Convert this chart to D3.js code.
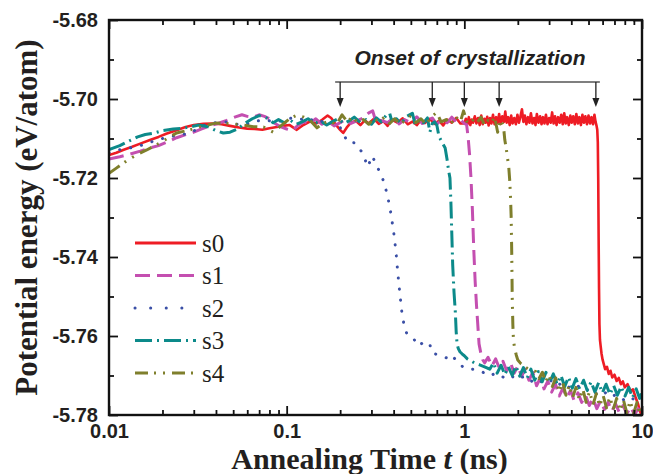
<!DOCTYPE html>
<html><head><meta charset="utf-8">
<script src="https://cdn.jsdelivr.net/npm/d3@7"></script>
<style>body{margin:0;background:#fff}svg{display:block}</style>
</head><body>
<svg id="c" width="653" height="474"></svg>
<script>
const seriesNames = ["s0","s1","s2","s3","s4"];
const seriesColors = ["#ee1c24","#c44fb0","#3a4fa6","#0c8a8a","#7f7f2c"];
const xTickValues = [0.01,0.1,1,10];
const xTickLabels = ["0.01","0.1","1","10"];
const yTickValues = [-5.68,-5.70,-5.72,-5.74,-5.76,-5.78];
const yTickLabels = ["-5.68","-5.70","-5.72","-5.74","-5.76","-5.78"];
const onsetTimes = [0.2,0.66,1.0,1.57,5.5];
const annotationText = "Onset of crystallization";
const xTitle = "Annealing Time ", xTitleItalic = "t", xTitleEnd = " (ns)";
const yTitle = "Potential energy (eV/atom)";

const s0 = [
[0.010,-5.7142],[0.011,-5.7136],[0.012,-5.7129],[0.0135,-5.7121],[0.015,-5.7113],[0.017,-5.7104],[0.019,-5.7096],[0.021,-5.7088],[0.024,-5.7079],[0.027,-5.7071],[0.030,-5.7066],[0.034,-5.7063],[0.038,-5.7062],[0.043,-5.7064],[0.048,-5.7068],[0.054,-5.7072],[0.060,-5.7075],[0.066,-5.7076],[0.073,-5.7078],[0.080,-5.7074],[0.088,-5.7071],[0.095,-5.7068],[0.104,-5.7066],[0.114,-5.7078],[0.124,-5.7066],[0.135,-5.7057],[0.147,-5.7062],[0.159,-5.7052],[0.170,-5.7042],[0.178,-5.7048],[0.190,-5.7066],[0.200,-5.7078],[0.208,-5.7086],[0.218,-5.7072],[0.230,-5.7060],[0.245,-5.7055],[0.260,-5.7066],[0.275,-5.7054],[0.290,-5.7062],[0.310,-5.7050],[0.330,-5.7063],[0.350,-5.7056],[0.370,-5.7068],[0.390,-5.7052],[0.420,-5.7060],[0.450,-5.7049],[0.480,-5.7064],[0.510,-5.7057],[0.540,-5.7066],[0.570,-5.7053],[0.600,-5.7061],[0.640,-5.7050],[0.680,-5.7063],[0.720,-5.7055],[0.760,-5.7067],[0.800,-5.7052],[0.850,-5.7060],[0.900,-5.7048],[0.950,-5.7062],
[1.00,-5.7062],[1.02,-5.7050],[1.04,-5.7064],[1.06,-5.7046],[1.08,-5.7066],[1.10,-5.7052],[1.12,-5.7060],[1.145,-5.7044],[1.17,-5.7062],[1.195,-5.7048],[1.22,-5.7066],[1.245,-5.7042],[1.27,-5.7064],[1.295,-5.7050],[1.32,-5.7060],[1.345,-5.7045],[1.37,-5.7067],[1.395,-5.7048],[1.42,-5.7062],[1.45,-5.7040],[1.48,-5.7064],[1.51,-5.7046],[1.54,-5.7060],[1.57,-5.7038],[1.60,-5.7063],[1.635,-5.7044],[1.67,-5.7058],[1.70,-5.7032],[1.73,-5.7060],[1.765,-5.7046],[1.80,-5.7066],[1.835,-5.7042],[1.87,-5.7062],[1.91,-5.7048],[1.95,-5.7064],[1.99,-5.7040],[2.03,-5.7060],[2.07,-5.7044],[2.11,-5.7026],[2.15,-5.7058],[2.19,-5.7042],[2.235,-5.7064],[2.28,-5.7046],[2.325,-5.7060],[2.37,-5.7036],[2.42,-5.7062],[2.47,-5.7048],[2.515,-5.7066],[2.56,-5.7038],[2.615,-5.7060],[2.67,-5.7044],[2.72,-5.7064],[2.77,-5.7046],[2.825,-5.7062],[2.88,-5.7040],[2.94,-5.7064],[3.00,-5.7048],[3.06,-5.7060],[3.12,-5.7034],[3.18,-5.7062],[3.24,-5.7044],[3.305,-5.7066],[3.37,-5.7046],[3.44,-5.7060],[3.51,-5.7040],[3.58,-5.7064],[3.65,-5.7036],[3.72,-5.7062],[3.79,-5.7046],[3.87,-5.7066],[3.95,-5.7042],[4.02,-5.7060],[4.10,-5.7044],[4.185,-5.7064],[4.27,-5.7038],[4.355,-5.7062],[4.44,-5.7046],[4.53,-5.7066],[4.62,-5.7040],[4.71,-5.7060],[4.80,-5.7044],[4.90,-5.7064],[5.00,-5.7042],[5.10,-5.7062],[5.20,-5.7046],[5.30,-5.7064],[5.40,-5.7040],[5.48,-5.7058],[5.55,-5.7068],
[5.60,-5.7078],[5.64,-5.7110],[5.67,-5.7200],[5.70,-5.7350],[5.73,-5.7480],[5.76,-5.7570],[5.80,-5.7610],[5.85,-5.7625],[5.92,-5.7645],[6.00,-5.7660],[6.10,-5.7672],[6.20,-5.7684],[6.35,-5.7678],[6.50,-5.7696],[6.65,-5.7688],[6.80,-5.7705],[7.00,-5.7698],[7.20,-5.7714],[7.40,-5.7706],[7.60,-5.7722],[7.80,-5.7715],[8.00,-5.7730],[8.30,-5.7722],[8.60,-5.7740],[8.90,-5.7735],[9.20,-5.7755],[9.50,-5.7772],[9.70,-5.7788],[9.85,-5.7796],[10.0,-5.7800]
];

const s1 = [
[0.010,-5.7152],[0.0115,-5.7146],[0.013,-5.7140],[0.015,-5.7132],[0.017,-5.7124],[0.019,-5.7118],[0.021,-5.7110],[0.024,-5.7098],[0.027,-5.7090],[0.030,-5.7084],[0.033,-5.7076],[0.037,-5.7068],[0.041,-5.7062],[0.046,-5.7054],[0.051,-5.7046],[0.056,-5.7040],[0.060,-5.7044],[0.065,-5.7046],[0.070,-5.7040],[0.075,-5.7044],[0.080,-5.7050],[0.086,-5.7062],[0.092,-5.7070],[0.100,-5.7076],[0.108,-5.7080],[0.116,-5.7066],[0.125,-5.7058],[0.135,-5.7062],[0.146,-5.7050],[0.158,-5.7064],[0.170,-5.7056],[0.185,-5.7068],[0.200,-5.7060],[0.215,-5.7052],[0.230,-5.7062],[0.250,-5.7055],[0.270,-5.7048],[0.290,-5.7035],[0.305,-5.7030],[0.320,-5.7062],[0.340,-5.7054],[0.370,-5.7060],[0.400,-5.7047],[0.430,-5.7063],[0.460,-5.7052],[0.500,-5.7060],[0.540,-5.7045],[0.580,-5.7062],[0.620,-5.7055],[0.660,-5.7048],[0.700,-5.7064],[0.750,-5.7051],[0.800,-5.7060],[0.850,-5.7046],[0.900,-5.7058],[0.950,-5.7052],[1.000,-5.7062],[1.030,-5.7065],
[1.05,-5.7096],[1.07,-5.7140],[1.09,-5.7200],[1.11,-5.7280],[1.13,-5.7380],[1.15,-5.7460],[1.17,-5.7520],[1.19,-5.7570],[1.21,-5.7620],[1.24,-5.7645],[1.27,-5.7660],
[1.30,-5.7668],[1.36,-5.7654],[1.43,-5.7676],[1.50,-5.7658],[1.57,-5.7680],[1.65,-5.7664],[1.73,-5.7688],[1.82,-5.7668],[1.91,-5.7694],[2.00,-5.7676],[2.10,-5.7702],[2.20,-5.7684],[2.31,-5.7712],[2.43,-5.7692],[2.55,-5.7726],[2.68,-5.7706],[2.81,-5.7734],[2.95,-5.7714],[3.10,-5.7742],[3.26,-5.7722],[3.42,-5.7752],[3.59,-5.7732],[3.77,-5.7756],[3.96,-5.7738],[4.15,-5.7764],[4.36,-5.7744],[4.58,-5.7768],[4.81,-5.7750],[5.05,-5.7776],[5.30,-5.7758],[5.57,-5.7784],[5.85,-5.7764],[6.14,-5.7786],[6.45,-5.7768],[6.77,-5.7790],[7.10,-5.7772],[7.46,-5.7794],[7.83,-5.7776],[8.22,-5.7797],[8.64,-5.7780],[9.07,-5.7799],[9.52,-5.7784],[10.0,-5.7798]
];

const s2 = [
[0.010,-5.7136],[0.012,-5.7126],[0.014,-5.7122],[0.016,-5.7114],[0.018,-5.7106],[0.020,-5.7100],[0.022,-5.7096],[0.025,-5.7090],[0.028,-5.7088],[0.032,-5.7074],[0.036,-5.7062],[0.040,-5.7060],[0.045,-5.7058],[0.050,-5.7062],[0.056,-5.7066],[0.062,-5.7062],[0.069,-5.7055],[0.076,-5.7058],[0.084,-5.7052],[0.092,-5.7056],[0.100,-5.7050],[0.110,-5.7048],[0.120,-5.7052],[0.130,-5.7046],[0.140,-5.7054],[0.150,-5.7060],[0.160,-5.7056],[0.170,-5.7064],[0.180,-5.7058],[0.190,-5.7066],[0.200,-5.7072],[0.210,-5.7090],
[0.220,-5.7109],[0.242,-5.7111],[0.268,-5.7137],[0.286,-5.7172],[0.303,-5.7144],[0.330,-5.7180],[0.353,-5.7210],[0.372,-5.7251],[0.386,-5.7290],[0.401,-5.7340],[0.413,-5.7390],[0.422,-5.7440],[0.433,-5.7490],[0.445,-5.7540],[0.457,-5.7570],[0.475,-5.7595],[0.515,-5.7605],[0.550,-5.7625],[0.585,-5.7617],[0.635,-5.7617],[0.660,-5.7643],[0.750,-5.7651],[0.800,-5.7656],[0.850,-5.7648],[0.920,-5.7668],[1.000,-5.7681],
[1.15,-5.7685],[1.25,-5.7690],[1.39,-5.7701],[1.50,-5.7694],[1.67,-5.7705],[1.80,-5.7698],[1.97,-5.7710],[2.15,-5.7703],[2.35,-5.7716],[2.55,-5.7708],[2.80,-5.7720],[3.05,-5.7712],[3.30,-5.7726],[3.60,-5.7718],[3.95,-5.7732],[4.30,-5.7724],[4.70,-5.7740],[5.10,-5.7732],[5.60,-5.7748],[6.10,-5.7740],[6.60,-5.7755],[7.20,-5.7748],[7.90,-5.7762],[8.60,-5.7754],[9.30,-5.7766],[10.0,-5.7762]
];

const s3 = [
[0.010,-5.7128],[0.0115,-5.7118],[0.013,-5.7106],[0.0145,-5.7096],[0.016,-5.7090],[0.018,-5.7086],[0.020,-5.7080],[0.023,-5.7076],[0.026,-5.7074],[0.029,-5.7070],[0.032,-5.7066],[0.036,-5.7070],[0.040,-5.7080],[0.044,-5.7086],[0.048,-5.7084],[0.053,-5.7076],[0.058,-5.7062],[0.064,-5.7050],[0.070,-5.7042],[0.077,-5.7048],[0.084,-5.7060],[0.090,-5.7052],[0.097,-5.7060],[0.105,-5.7054],[0.113,-5.7064],[0.122,-5.7058],[0.132,-5.7050],[0.143,-5.7062],[0.155,-5.7056],[0.168,-5.7066],[0.180,-5.7058],[0.195,-5.7050],[0.210,-5.7062],[0.225,-5.7055],[0.240,-5.7046],[0.260,-5.7060],[0.280,-5.7052],[0.300,-5.7064],[0.320,-5.7048],[0.340,-5.7058],[0.365,-5.7040],[0.380,-5.7036],[0.390,-5.7055],[0.415,-5.7050],[0.440,-5.7062],[0.470,-5.7045],[0.510,-5.7036],[0.530,-5.7066],[0.560,-5.7052],[0.590,-5.7060],[0.620,-5.7048],[0.640,-5.7084],[0.660,-5.7062],[0.680,-5.7058],[0.700,-5.7066],
[0.720,-5.7095],[0.750,-5.7110],[0.780,-5.7124],[0.800,-5.7154],[0.815,-5.7180],[0.830,-5.7200],[0.840,-5.7260],[0.850,-5.7340],[0.860,-5.7420],[0.875,-5.7490],[0.890,-5.7540],[0.900,-5.7590],[0.910,-5.7620],[0.925,-5.7632],[0.945,-5.7640],[0.970,-5.7645],[1.000,-5.7650],[1.040,-5.7658],[1.080,-5.7662],[1.140,-5.7668],[1.220,-5.7673],[1.300,-5.7678],
[1.39,-5.7684],[1.46,-5.7668],[1.53,-5.7694],[1.61,-5.7674],[1.69,-5.7698],[1.77,-5.7678],[1.86,-5.7700],[1.95,-5.7676],[2.05,-5.7702],[2.15,-5.7680],[2.26,-5.7706],[2.37,-5.7684],[2.49,-5.7712],[2.61,-5.7690],[2.74,-5.7716],[2.88,-5.7692],[3.02,-5.7718],[3.17,-5.7696],[3.33,-5.7722],[3.50,-5.7700],[3.67,-5.7728],[3.86,-5.7704],[4.05,-5.7732],[4.25,-5.7708],[4.46,-5.7734],[4.69,-5.7712],[4.92,-5.7738],[5.17,-5.7716],[5.43,-5.7742],[5.70,-5.7718],[5.98,-5.7744],[6.28,-5.7722],[6.60,-5.7748],[6.93,-5.7726],[7.27,-5.7750],[7.64,-5.7728],[8.02,-5.7752],[8.42,-5.7730],[8.84,-5.7756],[9.28,-5.7734],[9.70,-5.7758],[10.0,-5.7742]
];

const s4 = [
[0.010,-5.7188],[0.011,-5.7175],[0.0128,-5.7154],[0.0145,-5.7140],[0.0163,-5.7129],[0.0194,-5.7111],[0.022,-5.7096],[0.024,-5.7086],[0.0286,-5.7078],[0.034,-5.7068],[0.040,-5.7061],[0.046,-5.7062],[0.051,-5.7064],[0.057,-5.7066],[0.065,-5.7070],[0.074,-5.7071],[0.084,-5.7084],[0.095,-5.7064],[0.105,-5.7048],[0.114,-5.7041],[0.125,-5.7046],[0.135,-5.7053],[0.148,-5.7073],[0.160,-5.7062],[0.175,-5.7055],[0.190,-5.7066],[0.205,-5.7040],[0.220,-5.7058],[0.235,-5.7044],[0.250,-5.7060],[0.270,-5.7052],[0.290,-5.7064],[0.310,-5.7048],[0.330,-5.7058],[0.355,-5.7046],[0.380,-5.7062],[0.405,-5.7050],[0.435,-5.7064],[0.465,-5.7054],[0.500,-5.7042],[0.535,-5.7060],[0.570,-5.7050],[0.610,-5.7064],[0.650,-5.7046],[0.700,-5.7034],[0.740,-5.7058],[0.790,-5.7052],[0.840,-5.7064],[0.890,-5.7044],[0.950,-5.7058],[0.990,-5.7030],[1.030,-5.7056],[1.080,-5.7064],[1.130,-5.7050],[1.180,-5.7060],[1.240,-5.7046],[1.300,-5.7066],[1.360,-5.7054],[1.420,-5.7062],[1.480,-5.7044],[1.540,-5.7084],[1.600,-5.7052],[1.650,-5.7066],
[1.67,-5.7080],[1.69,-5.7104],[1.72,-5.7124],[1.75,-5.7149],[1.78,-5.7175],[1.80,-5.7205],[1.82,-5.7250],[1.835,-5.7300],[1.85,-5.7400],[1.86,-5.7500],[1.875,-5.7570],[1.89,-5.7610],[1.92,-5.7632],[1.96,-5.7648],[2.00,-5.7661],[2.08,-5.7670],[2.19,-5.7678],[2.30,-5.7684],[2.40,-5.7688],
[2.52,-5.7690],[2.63,-5.7708],[2.75,-5.7692],[2.87,-5.7716],[3.00,-5.7698],[3.13,-5.7728],[3.27,-5.7706],[3.42,-5.7742],[3.57,-5.7716],[3.73,-5.7750],[3.90,-5.7724],[4.07,-5.7756],[4.25,-5.7730],[4.44,-5.7762],[4.64,-5.7734],[4.85,-5.7768],[5.07,-5.7740],[5.30,-5.7774],[5.53,-5.7746],[5.78,-5.7778],[6.04,-5.7750],[6.31,-5.7782],[6.60,-5.7754],[6.89,-5.7786],[7.20,-5.7758],[7.52,-5.7790],[7.86,-5.7762],[8.21,-5.7794],[8.58,-5.7764],[8.97,-5.7796],[9.37,-5.7768],[9.70,-5.7798],[10.0,-5.7778]
];

const seriesData = [s0,s1,s2,s3,s4];
const dashes = [null,"15,7","0.1,11","17,5,2,5","13,6,2,7,2,7"];

const svg = d3.select("#c");
const L=109,R=642,T=20,B=415;
const x = d3.scaleLog().domain([0.01,10]).range([L,R]);
const y = d3.scaleLinear().domain([-5.78,-5.68]).range([B,T]);

svg.append("defs").append("clipPath").attr("id","clip")
  .append("rect").attr("x",L).attr("y",T).attr("width",R-L).attr("height",B-T);

const line = d3.line().x(d=>x(d[0])).y(d=>y(d[1]));
const plot = svg.append("g").attr("clip-path","url(#clip)");
seriesData.forEach((data,i)=>{
  plot.append("path").datum(data).attr("d",line)
    .attr("fill","none").attr("stroke",seriesColors[i])
    .attr("stroke-width",i===0?2.6:3)
    .attr("stroke-linejoin","round")
    .attr("stroke-linecap",i===2?"round":"butt")
    .attr("stroke-dasharray",dashes[i]);
});

const xMinor = [];
[0.01,0.1,1].forEach(d=>{for(let k=2;k<=9;k++) xMinor.push(d*k);});
const yMinor = [-5.69,-5.71,-5.73,-5.75,-5.77];
const tickFont = "bold 20px 'Liberation Sans', Arial, sans-serif";
function styleAxis(g){ g.select(".domain").remove(); g.selectAll("line").attr("stroke","#111").attr("stroke-width",1.8); g.selectAll("text").style("font", tickFont).attr("fill","#231f20"); }

svg.append("g").attr("transform",`translate(0,${B})`)
  .call(d3.axisBottom(x).tickValues(xTickValues).tickSize(-9).tickPadding(9).tickFormat((d,i)=>xTickLabels[i])).call(styleAxis);
svg.append("g").attr("transform",`translate(0,${B})`)
  .call(d3.axisBottom(x).tickValues(xMinor).tickSize(-5).tickFormat("")).call(styleAxis);
svg.append("g").attr("transform",`translate(0,${T})`)
  .call(d3.axisTop(x).tickValues(xTickValues).tickSize(-9).tickFormat("")).call(styleAxis);
svg.append("g").attr("transform",`translate(0,${T})`)
  .call(d3.axisTop(x).tickValues(xMinor).tickSize(-5).tickFormat("")).call(styleAxis);
svg.append("g").attr("transform",`translate(${L},0)`)
  .call(d3.axisLeft(y).tickValues(yTickValues).tickSize(-9).tickPadding(11).tickFormat((d,i)=>yTickLabels[i])).call(styleAxis);
svg.append("g").attr("transform",`translate(${L},0)`)
  .call(d3.axisLeft(y).tickValues(yMinor).tickSize(-5).tickFormat("")).call(styleAxis);
svg.append("g").attr("transform",`translate(${R},0)`)
  .call(d3.axisRight(y).tickValues(yTickValues).tickSize(-9).tickFormat("")).call(styleAxis);
svg.append("g").attr("transform",`translate(${R},0)`)
  .call(d3.axisRight(y).tickValues(yMinor).tickSize(-5).tickFormat("")).call(styleAxis);

svg.append("rect").attr("x",L).attr("y",T).attr("width",R-L).attr("height",B-T)
  .attr("fill","none").attr("stroke","#111").attr("stroke-width",2.4);

const xt = svg.append("text").attr("x",(L+R)/2-6).attr("y",469).attr("text-anchor","middle")
  .style("font","bold 30px 'Liberation Serif','Times New Roman',serif").attr("fill","#231f20");
xt.append("tspan").text(xTitle);
xt.append("tspan").style("font-style","italic").text(xTitleItalic);
xt.append("tspan").text(xTitleEnd);
svg.append("text").attr("transform",`translate(37,${(T+B)/2}) rotate(-90)`).attr("text-anchor","middle")
  .style("font","bold 31px 'Liberation Serif','Times New Roman',serif").attr("fill","#231f20").text(yTitle);

const lg = svg.append("g");
seriesNames.forEach((n,i)=>{
  const yy = 243 + i*32.5;
  lg.append("line").attr("x1",135).attr("x2",196).attr("y1",yy).attr("y2",yy)
    .attr("stroke",seriesColors[i]).attr("stroke-width",3)
    .attr("stroke-linecap",i===2?"round":"butt").attr("stroke-dasharray",dashes[i]===null?null:(i===2?"0.1,15.5":dashes[i]));
  lg.append("text").attr("x",202).attr("y",yy+8.5)
    .style("font","25px 'Liberation Serif','Times New Roman',serif").attr("fill","#231f20").text(n);
});

const ax = onsetTimes.map(t=>x(t));
const bracketY = 82;
svg.append("text").attr("x",(d3.min(ax)+d3.max(ax))/2+2).attr("y",65).attr("text-anchor","middle")
  .style("font","italic bold 21px 'Liberation Sans', Arial, sans-serif").attr("fill","#231f20").text(annotationText);
svg.append("line").attr("x1",d3.min(ax)-5).attr("x2",d3.max(ax)+4).attr("y1",bracketY).attr("y2",bracketY)
  .attr("stroke","#555").attr("stroke-width",1.6);
ax.forEach(px=>{
  svg.append("line").attr("x1",px).attr("x2",px).attr("y1",bracketY).attr("y2",100)
    .attr("stroke","#222").attr("stroke-width",1.3);
  svg.append("path").attr("d",`M${px-3.5},98L${px+3.5},98L${px},107Z`).attr("fill","#222");
});
</script>
</body></html>
